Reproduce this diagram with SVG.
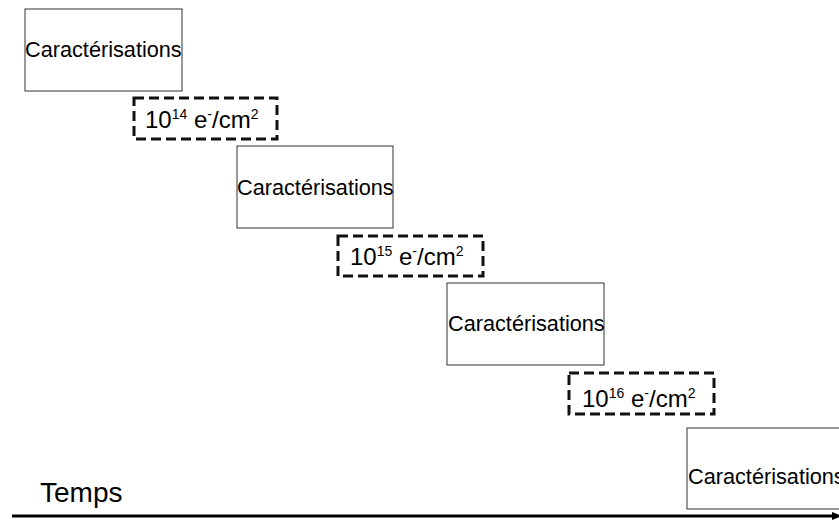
<svg xmlns="http://www.w3.org/2000/svg" width="839" height="520" viewBox="0 0 839 520">
<defs>
<style>
.box{fill:#fff;stroke:#333;stroke-width:1}
.dash{fill:none;stroke:#111;stroke-width:3;stroke-dasharray:10 5}
.t{font-family:"Liberation Sans",Arial,sans-serif;font-size:21.7px;fill:#000}
.d{font-family:"Liberation Sans",Arial,sans-serif;font-size:24px;fill:#000}
.s{font-size:14px}
</style>
<marker id="ah" markerWidth="10" markerHeight="8" refX="2" refY="4" orient="auto" markerUnits="userSpaceOnUse">
<path d="M0,0 L10,4 L0,8 Z" fill="#000"/>
</marker>
</defs>
<rect width="839" height="520" fill="#fff"/>
<g id="connectors">
<line x1="12" y1="516" x2="834" y2="516" stroke="#000" stroke-width="3" marker-end="url(#ah)"/>
</g>
<g id="temps">
<text class="t" x="40" y="502" style="font-size:28px">Temps</text>
</g>
<g id="char1">
<rect class="box" x="25" y="9" width="157" height="82"/>
<text class="t" x="25" y="57">Caractérisations</text>
</g>
<g id="dose1">
<rect class="dash" x="134" y="98" width="143" height="41"/>
<text class="d" x="145" y="128">10<tspan class="s" dy="-9">14</tspan><tspan dy="9"> e</tspan><tspan class="s" dy="-9">-</tspan><tspan dy="9">/cm</tspan><tspan class="s" dy="-9">2</tspan></text>
</g>
<g id="char2">
<rect class="box" x="237" y="146" width="156" height="82"/>
<text class="t" x="237" y="195">Caractérisations</text>
</g>
<g id="dose2">
<rect class="dash" x="338" y="236" width="145" height="40"/>
<text class="d" x="350" y="265">10<tspan class="s" dy="-9">15</tspan><tspan dy="9"> e</tspan><tspan class="s" dy="-9">-</tspan><tspan dy="9">/cm</tspan><tspan class="s" dy="-9">2</tspan></text>
</g>
<g id="char3">
<rect class="box" x="447" y="283" width="157" height="82"/>
<text class="t" x="448" y="331">Caractérisations</text>
</g>
<g id="dose3">
<rect class="dash" x="569" y="373" width="145" height="41"/>
<text class="d" x="582" y="407">10<tspan class="s" dy="-9">16</tspan><tspan dy="9"> e</tspan><tspan class="s" dy="-9">-</tspan><tspan dy="9">/cm</tspan><tspan class="s" dy="-9">2</tspan></text>
</g>
<g id="char4">
<rect class="box" x="687" y="428" width="158" height="81"/>
<text class="t" x="688" y="484">Caractérisations</text>
</g>
</svg>
